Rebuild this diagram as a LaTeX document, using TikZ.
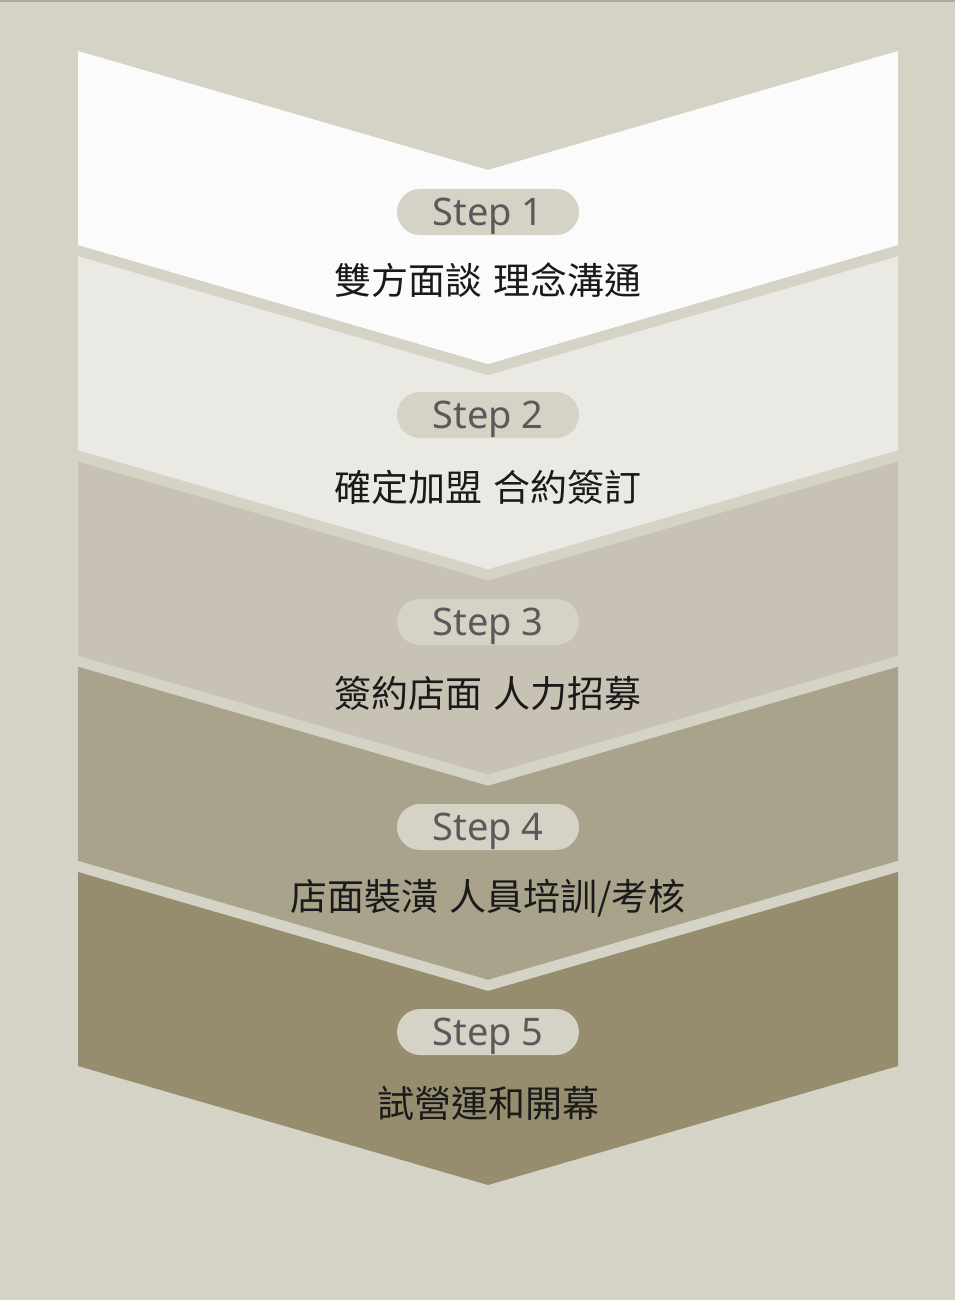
\documentclass[tikz,border=0pt]{standalone}
\usepackage{fontspec}
\setmainfont{Noto Sans}
\newfontfamily\cjk{Noto Sans CJK TC}
\definecolor{bgc}{HTML}{D5D2C6}
\definecolor{topline}{HTML}{A9A9A6}
\definecolor{cA}{HTML}{FBFBFB}
\definecolor{cB}{HTML}{EAE9E4}
\definecolor{cC}{HTML}{C8C2B4}
\definecolor{cD}{HTML}{A9A38B}
\definecolor{cE}{HTML}{968C6E}
\definecolor{steptext}{HTML}{5A5A5C}
\definecolor{cjktext}{HTML}{1A1A1A}
\newcommand{\gapsp}{\hspace{0.3em}}
\tikzset{
  pill/.style={fill=bgc, rounded corners=23pt, minimum width=182pt, minimum height=46pt,
    inner sep=0pt, text height=27pt, text depth=0pt, text=steptext,
    font=\fontsize{38}{40}\selectfont},
  desc/.style={inner sep=0pt, text=cjktext, font=\cjk\fontsize{37}{39}\selectfont},
}
\begin{document}
\begin{tikzpicture}[x=1pt,y=-1pt]
\fill[bgc] (0,0) rectangle (955,1300);
\useasboundingbox (0,0) rectangle (955,1300);
\fill[topline] (0,0) rectangle (955,2);
\foreach \k/\c in {0/cA,1/cB,2/cC,3/cD,4/cE}{
  \pgfmathsetmacro{\yo}{51+205.25*\k}
  \fill[\c] (78,\yo) -- (488,\yo+119) -- (898,\yo) -- (898,\yo+194) -- (488,\yo+313) -- (78,\yo+194) -- cycle;
}
\node[pill] (s1) at (488,212) {Step 1};
\node[pill] (s2) at (488,415) {Step 2};
\node[pill] (s3) at (488,622) {Step 3};
\node[pill] (s4) at (488,827) {Step 4};
\node[pill] (s5) at (488,1032) {Step 5};
\node[desc] (t1) at (488,280) {雙方面談\gapsp 理念溝通};
\node[desc] (t2) at (488,487) {確定加盟\gapsp 合約簽訂};
\node[desc] (t3) at (488,693) {簽約店面\gapsp 人力招募};
\node[desc] (t4) at (488,898) {店面裝潢\gapsp 人員培訓/考核};
\node[desc] (t5) at (488,1103) {試營運和開幕};
\end{tikzpicture}
\end{document}
